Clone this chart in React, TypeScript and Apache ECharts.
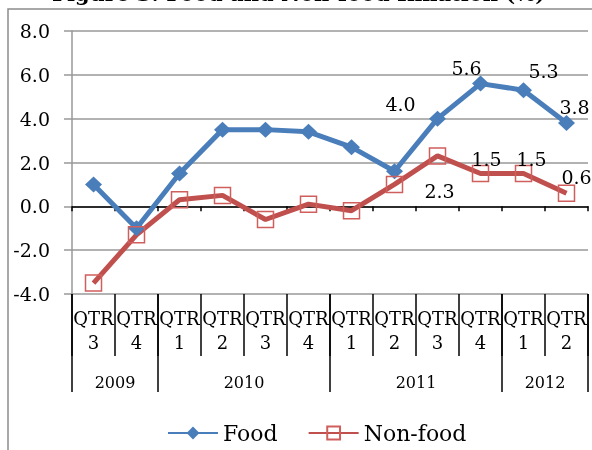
import React, { useEffect, useRef } from 'react';
import * as echarts from 'echarts';

const quarters = ['3', '4', '1', '2', '3', '4', '1', '2', '3', '4', '1', '2'];
const years = ['2009', '2010', '2011', '2012'];
const quartersPerYear = [2, 4, 4, 2];
const food = [1.0, -1.0, 1.5, 3.5, 3.5, 3.4, 2.7, 1.6, 4.0, 5.6, 5.3, 3.8];
const nonFood = [-3.5, -1.3, 0.3, 0.5, -0.6, 0.1, -0.2, 1.0, 2.3, 1.5, 1.5, 0.6];
const seriesNames = ['Food', 'Non-food'];
const yMin = -4;
const yMax = 8;
const yStep = 2;
const titleText = 'Figure 3: Food and Non-food Inflation (%)';

const foodLabelOffsets: Record<number, [number, number]> = {
  8: [-37, -15],
  9: [-14, -16],
  10: [20, -19],
  11: [8, -16],
};
const nonFoodLabelOffsets: Record<number, [number, number]> = {
  8: [2, 35],
  9: [6, -14],
  10: [8, -14],
  11: [10, -16],
};

const FONT = '"DejaVu Serif", serif';
const BLUE = '#4A7EBB';
const RED = '#C0504D';

export default function App() {
  const ref = useRef<HTMLDivElement>(null);
  useEffect(() => {
    if (!ref.current) return;
    const chart = echarts.init(ref.current, null, { renderer: 'svg' });
    const categories = quarters.map((q) => 'QTR\n' + q);
    const bounds: number[] = [0];
    const centers: number[] = [];
    quartersPerYear.forEach((n) => {
      const start = bounds[bounds.length - 1];
      centers.push(start + n / 2);
      bounds.push(start + n);
    });
    const total = bounds[bounds.length - 1];

    const makeData = (vals: number[], offs: Record<number, [number, number]>) =>
      vals.map((v, i) =>
        offs[i]
          ? { value: v, label: { show: true, position: 'inside', offset: offs[i] } }
          : { value: v }
      );

    const labelBase = {
      show: false,
      fontFamily: FONT,
      fontSize: 19,
      color: '#000',
      formatter: (p: any) => Number(p.value).toFixed(1),
    };

    chart.setOption({
      animation: false,
      grid: { left: 72, right: 4, top: 31, bottom: 156, containLabel: false },
      graphic: [
        {
          type: 'rect',
          silent: true,
          z: -10,
          shape: { x: 8, y: 9, width: 700, height: 600 },
          style: { fill: 'none', stroke: '#8c8c8c', lineWidth: 1.5 },
        },
        {
          type: 'text',
          silent: true,
          x: 52,
          y: 4,
          style: {
            text: titleText,
            font: 'bold 21px "DejaVu Serif"',
            fill: '#000',
            verticalAlign: 'bottom',
          },
        },
      ],
      legend: {
        data: seriesNames,
        left: 162,
        top: 417,
        itemWidth: 50,
        itemHeight: 16,
        itemGap: 30,
        textStyle: { fontFamily: FONT, fontSize: 22, color: '#000' },
      },
      xAxis: [
        {
          type: 'category',
          data: categories,
          boundaryGap: true,
          axisLine: { onZero: true, lineStyle: { color: '#000', width: 1.5 } },
          axisTick: { show: true, interval: 0, length: 5, lineStyle: { color: '#000', width: 1.5 } },
          axisLabel: { show: false },
          splitLine: { show: false },
        },
        {
          type: 'category',
          position: 'bottom',
          data: categories,
          boundaryGap: true,
          axisLine: { show: false, onZero: false },
          axisTick: { show: true, interval: 0, length: 62, lineStyle: { color: '#000', width: 1.5 } },
          axisLabel: {
            interval: 0,
            fontFamily: FONT,
            fontSize: 18,
            lineHeight: 24,
            margin: 12,
            color: '#000',
          },
          splitLine: { show: false },
        },
        {
          type: 'value',
          position: 'bottom',
          min: 0,
          max: total,
          axisLine: { show: false, onZero: false },
          axisTick: {
            show: true,
            customValues: bounds,
            length: 98,
            lineStyle: { color: '#000', width: 1.5 },
          },
          axisLabel: {
            customValues: centers,
            formatter: (v: number) => years[centers.indexOf(v)] ?? '',
            fontFamily: FONT,
            fontSize: 16,
            margin: 80,
            color: '#000',
          },
          splitLine: { show: false },
        },
      ],
      yAxis: {
        type: 'value',
        min: yMin,
        max: yMax,
        interval: yStep,
        axisLine: { show: true, lineStyle: { color: '#999', width: 1.5 } },
        axisTick: { show: true, length: 8, lineStyle: { color: '#999', width: 1.5 } },
        axisLabel: {
          fontFamily: FONT,
          fontSize: 19,
          color: '#000',
          margin: 22,
          formatter: (v: number) => v.toFixed(1),
        },
        splitLine: { show: true, lineStyle: { color: '#999', width: 1.5 } },
      },
      series: [
        {
          name: seriesNames[0],
          type: 'line',
          xAxisIndex: 0,
          data: makeData(food, foodLabelOffsets),
          symbol: 'diamond',
          symbolSize: [17, 16],
          lineStyle: { color: BLUE, width: 5 },
          itemStyle: { color: BLUE },
          label: labelBase,
        },
        {
          name: seriesNames[1],
          type: 'line',
          xAxisIndex: 0,
          data: makeData(nonFood, nonFoodLabelOffsets),
          symbol: 'rect',
          symbolSize: 16,
          lineStyle: { color: RED, width: 5 },
          itemStyle: { color: 'rgba(255,255,255,0)', borderColor: '#CF5F5C', borderWidth: 1.5 },
          label: labelBase,
        },
      ],
    });
    return () => chart.dispose();
  }, []);
  return (
    <div
      ref={ref}
      style={{ position: 'fixed', left: 0, top: 0, width: 592, height: 450 }}
    />
  );
}
